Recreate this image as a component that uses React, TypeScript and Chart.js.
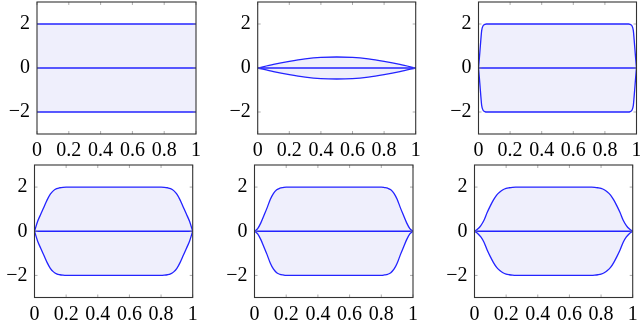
import React, { useEffect, useRef } from "react";
import { Chart, registerables } from "chart.js";

Chart.register(...registerables);

const W = 640;
const H = 321;

// ---- tick values / labels ----
const xTicks = [0, 0.2, 0.4, 0.6, 0.8, 1];
const xTickLabels = ["0", "0.2", "0.4", "0.6", "0.8", "1"];
const yTicks = [-2, 0, 2];
const yTickLabels = ["\u22122", "0", "2"];

// ---- middle line (all panels) ----
const middleX = [0, 1];
const middleY = [0, 0];

// ---- panel 1 ----
const p1X = [0, 1];
const p1Upper = [2, 2];
const p1Lower = [-2, -2];

// ---- panel 2 ----
const p2X = [0, 0.1, 0.2, 0.3, 0.4, 0.5, 0.6, 0.7, 0.8, 0.9, 1];
const p2Upper = [0, 0.165, 0.3, 0.41, 0.48, 0.5, 0.48, 0.41, 0.3, 0.165, 0];
const p2Lower = [0, -0.165, -0.3, -0.41, -0.48, -0.5, -0.48, -0.41, -0.3, -0.165, 0];

// ---- panel 3 ----
const p3X = [0, 0.005, 0.01, 0.015, 0.02, 0.03, 0.04, 0.05, 0.5, 0.95, 0.96, 0.97, 0.98, 0.985, 0.99, 0.995, 1];
const p3Upper = [0, 0.4, 0.85, 1.3, 1.7, 1.93, 1.98, 2, 2, 2, 1.98, 1.93, 1.7, 1.3, 0.85, 0.4, 0];
const p3Lower = [0, -0.4, -0.85, -1.3, -1.7, -1.93, -1.98, -2, -2, -2, -1.98, -1.93, -1.7, -1.3, -0.85, -0.4, 0];

// ---- panel 4 ----
const p4X = [0, 0.02, 0.04, 0.06, 0.08, 0.1, 0.12, 0.14, 0.16, 0.18, 0.2, 0.5, 0.8, 0.82, 0.84, 0.86, 0.88, 0.9, 0.92, 0.94, 0.96, 0.98, 1];
const p4Upper = [0, 0.45, 0.78, 1.1, 1.42, 1.68, 1.84, 1.93, 1.97, 1.99, 2, 2, 2, 1.99, 1.97, 1.93, 1.84, 1.68, 1.42, 1.1, 0.78, 0.45, 0];
const p4Lower = [0, -0.45, -0.78, -1.1, -1.42, -1.68, -1.84, -1.93, -1.97, -1.99, -2, -2, -2, -1.99, -1.97, -1.93, -1.84, -1.68, -1.42, -1.1, -0.78, -0.45, 0];

// ---- panel 5 ----
const p5X = [0, 0.02, 0.04, 0.06, 0.08, 0.1, 0.12, 0.14, 0.16, 0.18, 0.2, 0.5, 0.8, 0.82, 0.84, 0.86, 0.88, 0.9, 0.92, 0.94, 0.96, 0.98, 1];
const p5Upper = [0, 0.12, 0.38, 0.72, 1.07, 1.45, 1.72, 1.88, 1.95, 1.98, 2, 2, 2, 1.98, 1.95, 1.88, 1.72, 1.45, 1.07, 0.72, 0.38, 0.12, 0];
const p5Lower = [0, -0.12, -0.38, -0.72, -1.07, -1.45, -1.72, -1.88, -1.95, -1.98, -2, -2, -2, -1.98, -1.95, -1.88, -1.72, -1.45, -1.07, -0.72, -0.38, -0.12, 0];

// ---- panel 6 ----
const p6X = [0, 0.02, 0.04, 0.06, 0.08, 0.1, 0.12, 0.14, 0.16, 0.18, 0.2, 0.22, 0.24, 0.26, 0.5, 0.74, 0.76, 0.78, 0.8, 0.82, 0.84, 0.86, 0.88, 0.9, 0.92, 0.94, 0.96, 0.98, 1];
const p6Upper = [0, 0.1, 0.26, 0.5, 0.85, 1.15, 1.42, 1.64, 1.78, 1.88, 1.94, 1.97, 1.99, 2, 2, 2, 1.99, 1.97, 1.94, 1.88, 1.78, 1.64, 1.42, 1.15, 0.85, 0.5, 0.26, 0.1, 0];
const p6Lower = [0, -0.1, -0.26, -0.5, -0.85, -1.15, -1.42, -1.64, -1.78, -1.88, -1.94, -1.97, -1.99, -2, -2, -2, -1.99, -1.97, -1.94, -1.88, -1.78, -1.64, -1.42, -1.15, -0.85, -0.5, -0.26, -0.1, 0];

// ---- styling / layout ----
const BLUE = "rgb(35,35,255)";
const FILL = "rgb(239,239,252)";
const FONT = { family: "'Liberation Serif', serif", size: 20 };
const Y_AXIS_W = 37;
const X_AXIS_H = 26;

const panels = [
  { xs: p1X, upper: p1Upper, lower: p1Lower, box: { l: 37, r: 196, t: 2, b: 134 } },
  { xs: p2X, upper: p2Upper, lower: p2Lower, box: { l: 257.7, r: 415.7, t: 2, b: 134 } },
  { xs: p3X, upper: p3Upper, lower: p3Lower, box: { l: 478.5, r: 636.5, t: 2, b: 134 } },
  { xs: p4X, upper: p4Upper, lower: p4Lower, box: { l: 34.5, r: 192.7, t: 165, b: 297.5 } },
  { xs: p5X, upper: p5Upper, lower: p5Lower, box: { l: 254.5, r: 413, t: 165, b: 297.5 } },
  { xs: p6X, upper: p6Upper, lower: p6Lower, box: { l: 474.5, r: 632.7, t: 165, b: 297.5 } },
];

const toPts = (xs: number[], ys: number[]) => xs.map((x, i) => ({ x, y: ys[i] }));

const framePlugin = {
  id: "frame",
  afterDatasetsDraw(chart: any) {
    const { ctx, chartArea: a, scales } = chart;
    ctx.save();
    ctx.strokeStyle = "#8a8a8a";
    ctx.lineWidth = 0.7;
    ctx.beginPath();
    xTicks.forEach((v) => {
      const px = scales.x.getPixelForValue(v);
      ctx.moveTo(px, a.bottom);
      ctx.lineTo(px, a.bottom - 3);
      ctx.moveTo(px, a.top);
      ctx.lineTo(px, a.top + 3);
    });
    yTicks.forEach((v) => {
      const py = scales.y.getPixelForValue(v);
      ctx.moveTo(a.left, py);
      ctx.lineTo(a.left + 3, py);
      ctx.moveTo(a.right, py);
      ctx.lineTo(a.right - 3, py);
    });
    ctx.stroke();
    ctx.strokeStyle = "#333";
    ctx.lineWidth = 1.1;
    ctx.strokeRect(a.left, a.top, a.right - a.left, a.bottom - a.top);
    ctx.restore();
  },
};

function Panel({ xs, upper, lower, box }: any) {
  const ref = useRef<HTMLCanvasElement>(null);
  useEffect(() => {
    const lineDs = (data: any, extra: any = {}) => ({
      data,
      borderColor: BLUE,
      borderWidth: 1.3,
      pointRadius: 0,
      fill: false,
      cubicInterpolationMode: "monotone",
      ...extra,
    });
    const chart = new Chart(ref.current as HTMLCanvasElement, {
      type: "line",
      data: {
        datasets: [
          lineDs(toPts(xs, upper), { fill: 2, backgroundColor: FILL }),
          lineDs(toPts(middleX, middleY)),
          lineDs(toPts(xs, lower)),
        ],
      },
      options: {
        animation: false,
        responsive: false,
        events: [],
        layout: {
          padding: {
            left: box.l - Y_AXIS_W,
            right: W - box.r,
            top: box.t,
            bottom: H - box.b - X_AXIS_H,
          },
        },
        plugins: {
          legend: { display: false },
          tooltip: { enabled: false },
          filler: { drawTime: "beforeDatasetsDraw" },
        },
        scales: {
          x: {
            type: "linear",
            min: 0,
            max: 1,
            afterBuildTicks: (s: any) => {
              s.ticks = xTicks.map((v) => ({ value: v }));
            },
            afterFit: (s: any) => {
              s.height = X_AXIS_H;
              s.paddingLeft = 0;
              s.paddingRight = 0;
            },
            ticks: {
              callback: (_v: any, i: number) => xTickLabels[i],
              font: FONT,
              color: "#000",
              padding: 5,
              maxRotation: 0,
              autoSkip: false,
            },
            grid: { display: false, drawTicks: false },
            border: { display: false },
          },
          y: {
            type: "linear",
            min: -3,
            max: 3,
            afterBuildTicks: (s: any) => {
              s.ticks = yTicks.map((v) => ({ value: v }));
            },
            afterFit: (s: any) => {
              s.width = Y_AXIS_W;
              s.paddingTop = 0;
              s.paddingBottom = 0;
            },
            ticks: {
              callback: (_v: any, i: number) => yTickLabels[i],
              font: FONT,
              color: "#000",
              padding: 7,
              autoSkip: false,
            },
            grid: { display: false, drawTicks: false },
            border: { display: false },
          },
        },
      } as any,
      plugins: [framePlugin],
    });
    return () => chart.destroy();
  }, []);
  return (
    <canvas
      ref={ref}
      width={W}
      height={H}
      style={{ position: "absolute", left: 0, top: 0, width: W, height: H }}
    />
  );
}

export default function App() {
  return (
    <div style={{ position: "fixed", left: 0, top: 0, width: W, height: H, background: "#fff" }}>
      {panels.map((p, i) => (
        <Panel key={i} {...p} />
      ))}
    </div>
  );
}
